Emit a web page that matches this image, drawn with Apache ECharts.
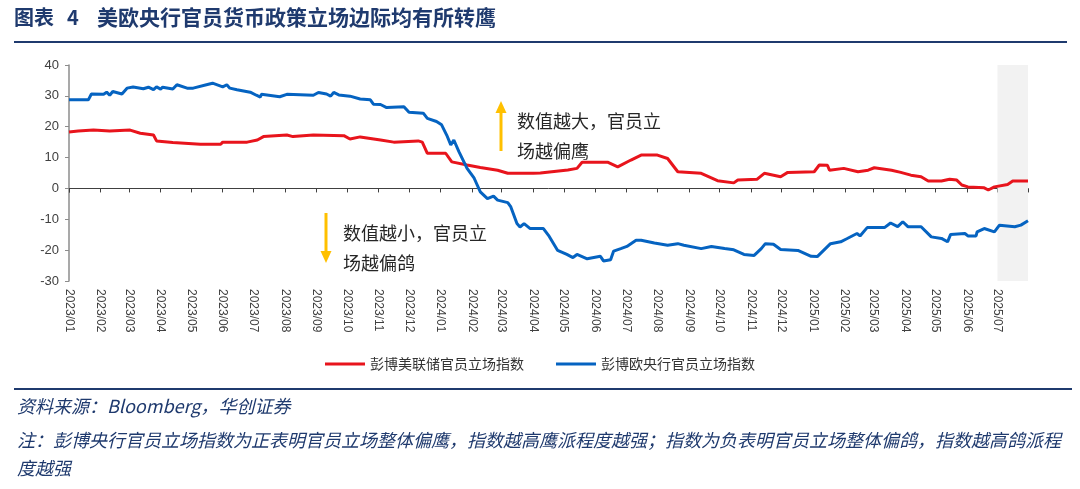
<!DOCTYPE html>
<html>
<head>
<meta charset="utf-8">
<script src="https://cdn.jsdelivr.net/npm/echarts@6/dist/echarts.min.js"></script>
<style>
  html, body { margin: 0; padding: 0; background: #fff; }
  #chart { width: 1080px; height: 489px; }
</style>
</head>
<body>
<div id="chart"></div>
<script>
// 彭博美联储官员立场指数
var fedSeries = [
  ['2023-01-01', 18.3], ['2023-01-10', 18.6], ['2023-01-25', 18.9], ['2023-02-10', 18.6],
  ['2023-02-20', 18.8], ['2023-03-02', 18.9], ['2023-03-12', 17.9], ['2023-03-25', 17.3],
  ['2023-03-28', 15.4], ['2023-04-13', 14.9], ['2023-05-10', 14.3], ['2023-05-30', 14.3],
  ['2023-06-01', 15.0], ['2023-06-25', 15.0], ['2023-07-05', 15.7], ['2023-07-11', 16.8],
  ['2023-08-03', 17.3], ['2023-08-09', 16.8], ['2023-08-29', 17.3], ['2023-09-28', 17.1],
  ['2023-10-04', 16.0], ['2023-10-14', 16.7], ['2023-11-03', 15.7], ['2023-11-16', 15.0],
  ['2023-12-10', 15.4], ['2023-12-14', 15.0], ['2023-12-19', 11.4], ['2024-01-06', 11.4],
  ['2024-01-12', 8.6], ['2024-01-27', 7.6], ['2024-02-09', 6.8], ['2024-02-26', 5.9],
  ['2024-03-07', 4.9], ['2024-04-01', 4.9], ['2024-04-08', 5.0], ['2024-05-05', 6.0],
  ['2024-05-14', 6.5], ['2024-05-19', 8.5], ['2024-06-13', 8.5], ['2024-06-23', 7.0],
  ['2024-07-06', 9.2], ['2024-07-16', 10.8], ['2024-08-01', 10.8], ['2024-08-11', 9.7],
  ['2024-08-21', 5.4], ['2024-09-13', 4.9], ['2024-09-29', 2.5], ['2024-10-15', 1.8],
  ['2024-10-19', 2.7], ['2024-11-07', 3.0], ['2024-11-14', 4.9], ['2024-11-30', 3.8],
  ['2024-12-07', 5.2], ['2025-01-02', 5.4], ['2025-01-07', 7.6], ['2025-01-15', 7.5],
  ['2025-01-17', 5.9], ['2025-01-31', 6.5], ['2025-02-14', 5.4], ['2025-02-24', 5.9],
  ['2025-03-02', 6.7], ['2025-03-19', 5.9], ['2025-03-28', 5.2], ['2025-04-07', 4.3],
  ['2025-04-17', 3.8], ['2025-04-24', 2.4], ['2025-05-07', 2.4], ['2025-05-15', 3.0],
  ['2025-05-22', 2.7], ['2025-05-27', 1.1], ['2025-06-02', 0.5], ['2025-06-18', 0.2],
  ['2025-06-22', -0.5], ['2025-06-28', 0.5], ['2025-07-11', 1.3], ['2025-07-16', 2.4],
  ['2025-07-31', 2.4]
];

// 彭博欧央行官员立场指数
var ecbSeries = [
  ['2023-01-01', 28.7], ['2023-01-20', 28.7], ['2023-01-23', 30.6], ['2023-02-04', 30.5],
  ['2023-02-07', 31.2], ['2023-02-10', 30.2], ['2023-02-13', 31.4], ['2023-02-22', 30.6],
  ['2023-02-27', 32.5], ['2023-03-05', 32.9], ['2023-03-15', 32.3], ['2023-03-20', 32.8],
  ['2023-03-25', 32.0], ['2023-03-28', 32.9], ['2023-04-01', 32.2], ['2023-04-03', 32.8],
  ['2023-04-13', 32.2], ['2023-04-17', 33.6], ['2023-04-27', 32.5], ['2023-05-03', 32.5],
  ['2023-05-16', 33.6], ['2023-05-22', 34.1], ['2023-06-01', 32.9], ['2023-06-05', 33.6],
  ['2023-06-08', 32.5], ['2023-06-15', 32.0], ['2023-06-28', 31.2], ['2023-07-04', 30.2],
  ['2023-07-08', 29.6], ['2023-07-09', 30.5], ['2023-07-27', 29.7], ['2023-08-03', 30.5],
  ['2023-08-29', 30.2], ['2023-09-03', 31.1], ['2023-09-11', 30.6], ['2023-09-15', 29.9],
  ['2023-09-18', 31.1], ['2023-09-23', 30.3], ['2023-10-04', 29.9], ['2023-10-14', 29.0],
  ['2023-10-24', 28.7], ['2023-10-27', 27.3], ['2023-11-03', 27.2], ['2023-11-09', 26.2],
  ['2023-11-26', 26.5], ['2023-11-27', 27.0], ['2023-12-01', 24.7], ['2023-12-15', 24.4],
  ['2023-12-19', 22.7], ['2023-12-28', 21.7], ['2024-01-02', 20.6], ['2024-01-07', 17.3],
  ['2024-01-11', 14.1], ['2024-01-14', 15.7], ['2024-01-19', 11.9], ['2024-01-27', 6.5],
  ['2024-02-03', 3.3], ['2024-02-09', -1.1], ['2024-02-16', -3.3], ['2024-02-22', -2.5],
  ['2024-02-26', -3.8], ['2024-03-07', -4.6], ['2024-03-10', -6.0], ['2024-03-16', -11.4],
  ['2024-03-19', -12.5], ['2024-03-23', -11.4], ['2024-03-29', -13.0], ['2024-04-11', -13.0],
  ['2024-04-16', -15.2], ['2024-04-25', -20.1], ['2024-05-04', -21.4], ['2024-05-10', -22.4],
  ['2024-05-14', -21.4], ['2024-05-24', -22.8], ['2024-06-06', -22.0], ['2024-06-09', -23.5],
  ['2024-06-16', -23.1], ['2024-06-19', -20.3], ['2024-06-26', -19.5], ['2024-07-02', -18.8],
  ['2024-07-11', -16.8], ['2024-07-16', -16.8], ['2024-07-29', -17.7], ['2024-08-11', -18.4],
  ['2024-08-21', -17.9], ['2024-08-27', -18.4], ['2024-09-13', -19.5], ['2024-09-23', -18.8],
  ['2024-10-06', -19.5], ['2024-10-15', -19.9], ['2024-10-25', -21.4], ['2024-11-04', -21.7],
  ['2024-11-11', -19.5], ['2024-11-15', -17.9], ['2024-11-23', -18.1], ['2024-11-30', -19.8],
  ['2024-12-17', -20.1], ['2024-12-30', -22.0], ['2025-01-05', -22.1], ['2025-01-13', -19.5],
  ['2025-01-18', -17.9], ['2025-01-28', -17.3], ['2025-02-03', -16.3], ['2025-02-13', -14.6],
  ['2025-02-16', -15.4], ['2025-02-23', -12.7], ['2025-03-12', -12.7], ['2025-03-18', -11.2],
  ['2025-03-25', -12.4], ['2025-03-30', -10.8], ['2025-04-04', -12.4], ['2025-04-17', -12.4],
  ['2025-04-27', -15.7], ['2025-05-07', -16.2], ['2025-05-13', -17.3], ['2025-05-16', -14.9],
  ['2025-05-30', -14.6], ['2025-06-02', -15.4], ['2025-06-10', -15.4], ['2025-06-11', -14.1],
  ['2025-06-18', -13.0], ['2025-06-28', -14.1], ['2025-07-03', -11.9], ['2025-07-18', -12.4],
  ['2025-07-24', -11.9], ['2025-07-31', -10.5]
];

var seriesNames = ['彭博美联储官员立场指数', '彭博欧央行官员立场指数'];
var shadeRange = ['2025-07-01', '2025-07-31'];
var xRange = ['2023-01-01', '2025-07-31'];

var navy = '#1f3a6e';
var cjk = '"Noto Sans CJK SC", sans-serif';

var chart = echarts.init(document.getElementById('chart'));
chart.setOption({
    backgroundColor: '#fff',
    animation: false,
    textStyle: { fontFamily: cjk },
    grid: { left: 69, right: 52, top: 65, bottom: 208 },
    legend: {
        data: seriesNames,
        left: 320,
        top: 352,
        itemWidth: 40,
        itemHeight: 3,
        itemGap: 32,
        icon: 'rect',
        textStyle: { fontSize: 14, color: '#333', fontFamily: cjk }
    },
    xAxis: [{
        type: 'time',
        min: xRange[0],
        max: xRange[1],
        splitNumber: 31,
        axisLine: { show: false, onZero: false },
        axisTick: { show: false },
        splitLine: { show: false },
        axisLabel: {
            rotate: -90,
            formatter: '{yyyy}/{MM}',
            fontSize: 12,
            color: '#404040',
            fontFamily: 'Liberation Sans, Arial, sans-serif',
            margin: 8
        }
    }, {
        type: 'time',
        position: 'bottom',
        min: xRange[0],
        max: xRange[1],
        splitNumber: 31,
        axisLine: { show: true, onZero: true, onZeroAxisIndex: 0, lineStyle: { color: '#404040', width: 1 } },
        axisTick: { show: true, length: 4, lineStyle: { color: '#404040' } },
        axisLabel: { show: false },
        splitLine: { show: false }
    }],
    yAxis: {
        type: 'value',
        min: -30,
        max: 40,
        interval: 10,
        axisLine: { show: true, lineStyle: { color: '#8c8c8c', width: 1.5 } },
        axisTick: { show: true, length: 4, lineStyle: { color: '#8c8c8c' } },
        splitLine: { show: false },
        axisLabel: {
            fontSize: 13,
            color: '#404040',
            fontFamily: 'Liberation Sans, Arial, sans-serif',
            margin: 10
        }
    },
    series: [{
        name: 'shade',
        type: 'line',
        data: [],
        z: 1,
        silent: true,
        markArea: {
            silent: true,
            itemStyle: { color: '#f2f2f2' },
            data: [[{ xAxis: shadeRange[0] }, { xAxis: shadeRange[1] }]]
        }
    }, {
        name: seriesNames[0],
        type: 'line',
        data: fedSeries,
        showSymbol: false,
        z: 3,
        itemStyle: { color: '#e8141c' },
        lineStyle: { color: '#e8141c', width: 3 }
    }, {
        name: seriesNames[1],
        type: 'line',
        data: ecbSeries,
        showSymbol: false,
        z: 4,
        itemStyle: { color: '#0563c1' },
        lineStyle: { color: '#0563c1', width: 3 }
    }],
    graphic: [
        // 标题
        { type: 'text', left: 14, top: 7, style: { text: '图表', fontSize: 20, fontWeight: 'bold', fill: navy, fontFamily: cjk } },
        { type: 'text', left: 67, top: 7, style: { text: '4', fontSize: 20, fontWeight: 'bold', fill: navy, fontFamily: cjk } },
        { type: 'text', left: 97, top: 7, style: { text: '美欧央行官员货币政策立场边际均有所转鹰', fontSize: 21, fontWeight: 'bold', fill: navy, fontFamily: cjk } },
        { type: 'line', shape: { x1: 14, y1: 42, x2: 1067, y2: 42 }, style: { stroke: navy, lineWidth: 2 } },
        // 向上箭头与说明
        { type: 'line', shape: { x1: 501, y1: 112, x2: 501, y2: 151 }, style: { stroke: '#ffc000', lineWidth: 3 } },
        { type: 'polygon', shape: { points: [[501, 101], [495.5, 113], [506.5, 113]] }, style: { fill: '#ffc000' } },
        { type: 'text', left: 517, top: 106, style: { text: '数值越大，官员立\n场越偏鹰', fontSize: 18, lineHeight: 30, fill: '#262626', fontFamily: cjk } },
        // 向下箭头与说明
        { type: 'line', shape: { x1: 326, y1: 213, x2: 326, y2: 252 }, style: { stroke: '#ffc000', lineWidth: 3 } },
        { type: 'polygon', shape: { points: [[326, 263], [320.5, 251], [331.5, 251]] }, style: { fill: '#ffc000' } },
        { type: 'text', left: 343, top: 218, style: { text: '数值越小，官员立\n场越偏鸽', fontSize: 18, lineHeight: 30, fill: '#262626', fontFamily: cjk } },
        // 底部来源与注释
        { type: 'line', shape: { x1: 14, y1: 389, x2: 1072, y2: 389 }, style: { stroke: navy, lineWidth: 2 } },
        { type: 'text', left: 17, top: 397, style: { text: '资料来源：Bloomberg，华创证券', fontSize: 18, fontStyle: 'italic', fill: navy, fontFamily: cjk } },
        { type: 'text', left: 17, top: 426, style: { text: '注：彭博央行官员立场指数为正表明官员立场整体偏鹰，指数越高鹰派程度越强；指数为负表明官员立场整体偏鸽，指数越高鸽派程\n度越强', fontSize: 18, lineHeight: 28, fontStyle: 'italic', fill: navy, fontFamily: cjk } }
    ]
});
</script>
</body>
</html>
